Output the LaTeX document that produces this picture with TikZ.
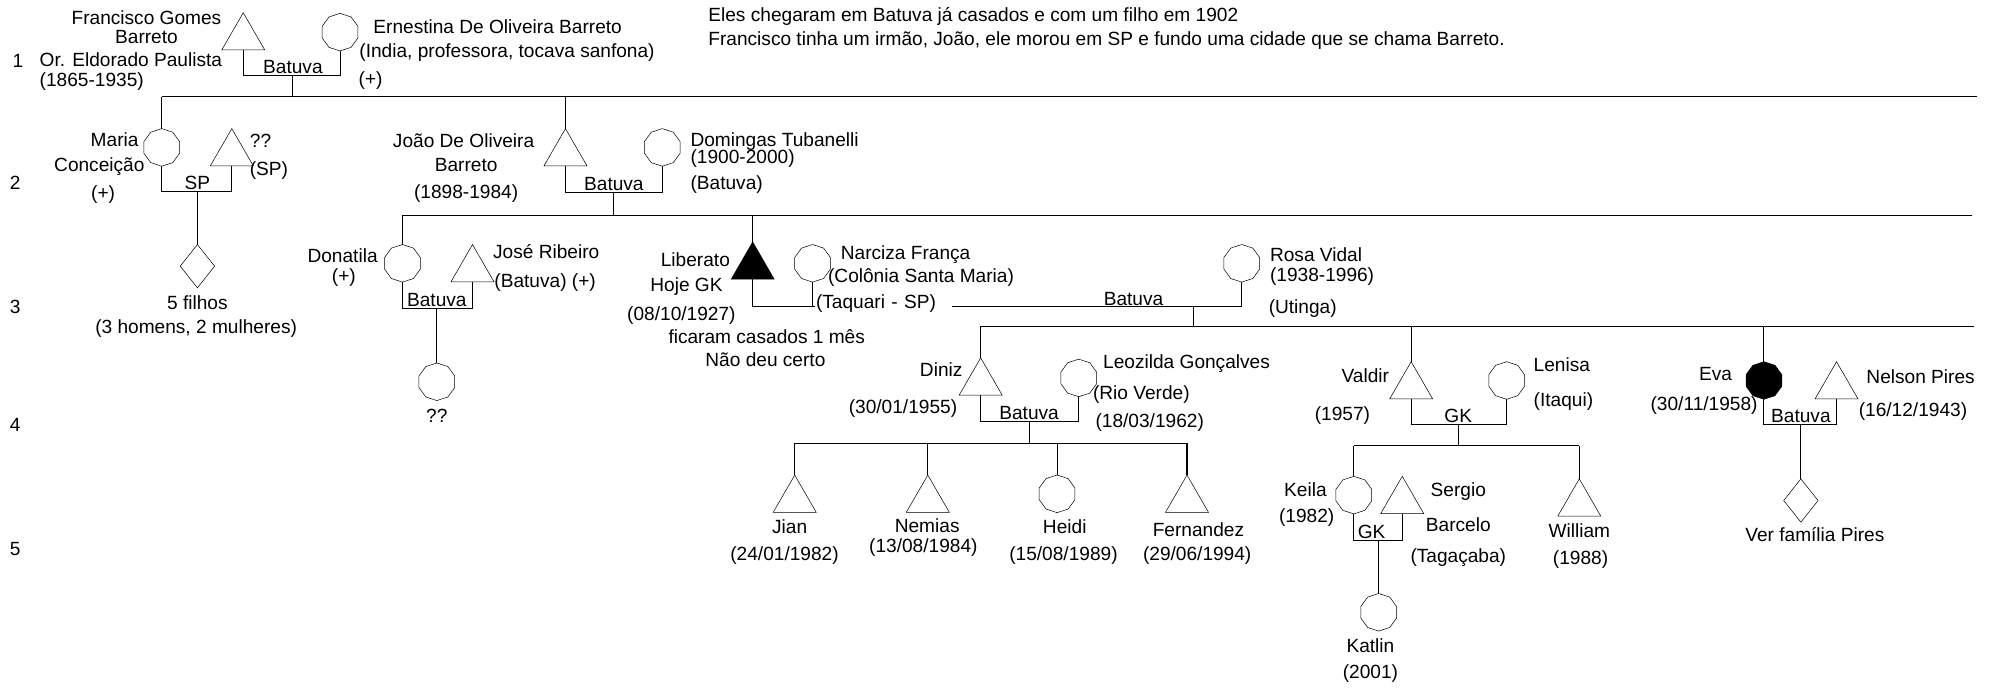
\documentclass[tikz,border=0pt]{standalone}
\usepackage{fontspec}
\setmainfont{Liberation Sans}
\usetikzlibrary{shapes.geometric}
\tikzset{homem/.style={draw,regular polygon,regular polygon sides=3,minimum size=39pt,inner sep=0pt,outer sep=0pt,anchor=north},mulher/.style={draw,regular polygon,regular polygon sides=10,regular polygon rotate=18,minimum size=29.5pt,inner sep=0pt,outer sep=0pt,anchor=north},filhos/.style={draw,diamond,minimum width=27pt,minimum height=34pt,inner sep=0pt,outer sep=0pt,anchor=north},txt/.style={inner sep=0pt,text height=11pt,text depth=3pt},liga/.style={line width=0.8pt}}
\begin{document}
\begin{tikzpicture}[x=1pt,y=-1pt,font=\fontsize{15}{18}\selectfont]
\useasboundingbox (0,0) rectangle (1568,540);
\node[homem] (fran) at (191,10) {};
\node[mulher] (erne) at (267,10.5) {};
\node[mulher] (maria) at (127,101) {};
\node[homem] (spm) at (182,101) {};
\node[homem] (joao) at (444,101) {};
\node[mulher] (doming) at (520,101) {};
\node[filhos] (cinco) at (155,192) {};
\node[mulher] (donat) at (316,192) {};
\node[homem] (jose) at (371,192) {};
\node[homem,fill=black] (liber) at (591,190) {};
\node[mulher] (narc) at (638,192) {};
\node[mulher] (rosa) at (975,192) {};
\node[mulher] (donf) at (343,285) {};
\node[homem] (diniz) at (770,281) {};
\node[mulher] (leoz) at (847,282) {};
\node[homem] (valdir) at (1108,284) {};
\node[mulher] (lenisa) at (1183,284) {};
\node[mulher,fill=black] (eva) at (1385,284) {};
\node[homem] (nelson) at (1442,284) {};
\node[homem] (jian) at (624,373) {};
\node[homem] (nemias) at (728.5,373) {};
\node[mulher] (heidi) at (830,373) {};
\node[homem] (fernan) at (932,373) {};
\node[mulher] (keila) at (1063,374) {};
\node[homem] (sergio) at (1101,374) {};
\node[homem] (william) at (1240,376) {};
\node[filhos] (pires) at (1414,376) {};
\node[mulher] (katlin) at (1082.5,466) {};
\coordinate (c1) at (230,59);
\coordinate (g2a) at (127,76);
\coordinate (g2b) at (1552,76);
\coordinate (c2) at (155,150);
\coordinate (c3) at (482,151);
\coordinate (g3a) at (316,169);
\coordinate (g3b) at (1548,169);
\coordinate (c4) at (343,242);
\coordinate (c5) at (937,241);
\coordinate (g4a) at (770,256);
\coordinate (g4b) at (1550,256);
\coordinate (c6) at (808,331);
\coordinate (g5a) at (624,348);
\coordinate (g5b) at (932,348);
\coordinate (c7) at (1145,333);
\coordinate (g6a) at (1063,350);
\coordinate (g6b) at (1240,350);
\coordinate (c8) at (1414,333);
\coordinate (c9) at (1082.5,424.5);
\draw[liga] (fran.south) |- (c1) -| (erne.south);
\draw[liga] (c1) -- (c1 |- g2a);
\draw[liga] (g2a) -- (g2b);
\draw[liga] (maria.north) -- (maria.north |- g2a);
\draw[liga] (joao.north) -- (joao.north |- g2a);
\draw[liga] (maria.south) |- (c2) -| (spm.south);
\draw[liga] (c2) -- (cinco.north);
\draw[liga] (joao.south) |- (c3) -| (doming.south);
\draw[liga] (c3) -- (c3 |- g3a);
\draw[liga] (g3a) -- (g3b);
\draw[liga] (donat.north) -- (donat.north |- g3a);
\draw[liga] (liber.north) -- (liber.north |- g3a);
\draw[liga] (donat.south) |- (c4) -| (jose.south);
\draw[liga] (c4) -- (donf.north);
\draw[liga] (liber.south) |- (c5) -| (rosa.south);
\draw[liga] (narc.south) -- (narc.south |- c5);
\draw[liga] (c5) -- (c5 |- g4a);
\draw[liga] (g4a) -- (g4b);
\draw[liga] (diniz.north) -- (diniz.north |- g4a);
\draw[liga] (valdir.north) -- (valdir.north |- g4a);
\draw[liga] (eva.north) -- (eva.north |- g4a);
\draw[liga] (diniz.south) |- (c6) -| (leoz.south);
\draw[liga] (c6) -- (c6 |- g5a);
\draw[liga] (g5a) -- (g5b);
\foreach \f in {jian,nemias,heidi,fernan} \draw[liga] (\f.north) -- (\f.north |- g5a);
\draw[liga] (valdir.south) |- (c7) -| (lenisa.south);
\draw[liga] (c7) -- (c7 |- g6a);
\draw[liga] (g6a) -- (g6b);
\draw[liga] (keila.north) -- (keila.north |- g6a);
\draw[liga] (william.north) -- (william.north |- g6a);
\draw[liga] (keila.south) |- (c9) -| (sergio.south);
\draw[liga] (c9) -- (katlin.north);
\draw[liga] (eva.south) |- (c8) -| (nelson.south);
\draw[liga] (c8) -- (pires.north);
\node[txt] (n1) at (14,49) {1};
\node[txt] (n2) at (12,145) {2};
\node[txt] (n3) at (12,242) {3};
\node[txt] (n4) at (12,335) {4};
\node[txt] (n5) at (12,432) {5};
\node[txt,anchor=west] (obs1) at (556,13) {Eles chegaram em Batuva já casados e com um filho em 1902};
\node[txt,anchor=west] (obs2) at (556,32) {Francisco tinha um irmão, João, ele morou em SP e fundo uma cidade que se chama Barreto.};
\node[txt] (tfran) at (115,15) {Francisco Gomes};
\node[txt] (tfran2) at (115,30) {Barreto};
\node[txt,anchor=west] (tfran3) at (31,48.5) {Or. Eldorado Paulista};
\node[txt,anchor=west] (tfran4) at (31,64) {(1865-1935)};
\node[txt,anchor=base] (tc1) at (230,57.5) {Batuva};
\node[txt,anchor=west] (terne) at (293,22) {Ernestina De Oliveira Barreto};
\node[txt,anchor=west] (terne2) at (282,41) {(India, professora, tocava sanfona)};
\node[txt] (terne3) at (291,63) {(+)};
\node[txt] (tmaria) at (90,111) {Maria};
\node[txt] (tmaria2) at (78,131) {Conceição};
\node[txt] (tmaria3) at (81,153) {(+)};
\node[txt,anchor=west] (tspm) at (196,112) {??};
\node[txt,anchor=west] (tspm2) at (196,134) {(SP)};
\node[txt,anchor=base] (tc2) at (155,148.5) {SP};
\node[txt] (tjoao) at (364,112) {João De Oliveira};
\node[txt] (tjoao2) at (366,131) {Barreto};
\node[txt] (tjoao3) at (366,152) {(1898-1984)};
\node[txt,anchor=base] (tc3) at (482,149.5) {Batuva};
\node[txt,anchor=west] (tdoming) at (542,111) {Domingas Tubanelli};
\node[txt,anchor=west] (tdoming2) at (542,124.5) {(1900-2000)};
\node[txt,anchor=west] (tdoming3) at (542,145) {(Batuva)};
\node[txt] (tcinco) at (155,239) {5 filhos};
\node[txt] (tcinco2) at (154,258) {(3 homens, 2 mulheres)};
\node[txt] (tdonat) at (269,202) {Donatila};
\node[txt] (tdonat2) at (270,218) {(+)};
\node[txt,anchor=west] (tjose) at (387,199) {José Ribeiro};
\node[txt,anchor=west] (tjose2) at (388,222) {(Batuva) (+)};
\node[txt,anchor=base] (tc4) at (343,240.5) {Batuva};
\node[txt] (tdonf) at (343,328) {??};
\node[txt] (tliber) at (546,205) {Liberato};
\node[txt] (tliber2) at (539,225) {Hoje GK};
\node[txt] (tliber3) at (535,248) {(08/10/1927)};
\node[txt] (tliber4) at (602,266) {ficaram casados 1 mês};
\node[txt] (tliber5) at (601,284) {Não deu certo};
\node[txt,anchor=west] (tnarc) at (660,200) {Narciza França};
\node[txt,anchor=west] (tnarc2) at (650,218) {(Colônia Santa Maria)};
\node[txt,anchor=west,fill=white,inner xsep=1pt,text width=106pt,align=left] (tnarc3) at (639.5,238) {(Taquari - SP)};
\node[txt,anchor=base] (tc5) at (890,239.5) {Batuva};
\node[txt,anchor=west] (trosa) at (997,201) {Rosa Vidal};
\node[txt,anchor=west] (trosa2) at (997,217) {(1938-1996)};
\node[txt,anchor=west] (trosa3) at (996,242) {(Utinga)};
\node[txt] (tdiniz) at (739,292) {Diniz};
\node[txt] (tdiniz2) at (709,321) {(30/01/1955)};
\node[txt,anchor=west] (tleoz) at (866,285) {Leozilda Gonçalves};
\node[txt,anchor=west] (tleoz2) at (858,310) {(Rio Verde)};
\node[txt,anchor=west] (tleoz3) at (860,332) {(18/03/1962)};
\node[txt,anchor=base] (tc6) at (808,329.5) {Batuva};
\node[txt] (tvaldir) at (1072,296) {Valdir};
\node[txt] (tvaldir2) at (1054,326) {(1957)};
\node[txt,anchor=west] (tlenisa) at (1204,288) {Lenisa};
\node[txt,anchor=west] (tlenisa2) at (1204,315) {(Itaqui)};
\node[txt,anchor=base] (tc7) at (1145,331.5) {GK};
\node[txt] (teva) at (1347,295) {Eva};
\node[txt] (teva2) at (1338,318) {(30/11/1958)};
\node[txt] (tnelson) at (1508,297) {Nelson Pires};
\node[txt] (tnelson2) at (1502,323) {(16/12/1943)};
\node[txt,anchor=base] (tc8) at (1414,331.5) {Batuva};
\node[txt] (tjian) at (620,415) {Jian};
\node[txt] (tjian2) at (616,436) {(24/01/1982)};
\node[txt] (tnemias) at (728,414) {Nemias};
\node[txt] (tnemias2) at (725,430) {(13/08/1984)};
\node[txt] (theidi) at (836,415) {Heidi};
\node[txt] (theidi2) at (835,436) {(15/08/1989)};
\node[txt] (tfernan) at (941,417) {Fernandez};
\node[txt] (tfernan2) at (940,436) {(29/06/1994)};
\node[txt] (tkeila) at (1025,386) {Keila};
\node[txt] (tkeila2) at (1026,406) {(1982)};
\node[txt] (tsergio) at (1145,386) {Sergio};
\node[txt] (tsergio2) at (1145,413) {Barcelo};
\node[txt] (tsergio3) at (1145,438) {(Tagaçaba)};
\node[txt,anchor=base] (tc9) at (1077,423) {GK};
\node[txt] (twilliam) at (1240,418) {William};
\node[txt] (twilliam2) at (1241,439) {(1988)};
\node[txt] (tpires) at (1425,421) {Ver família Pires};
\node[txt] (tkatlin) at (1076,508) {Katlin};
\node[txt] (tkatlin2) at (1076,529) {(2001)};
\end{tikzpicture}
\end{document}
